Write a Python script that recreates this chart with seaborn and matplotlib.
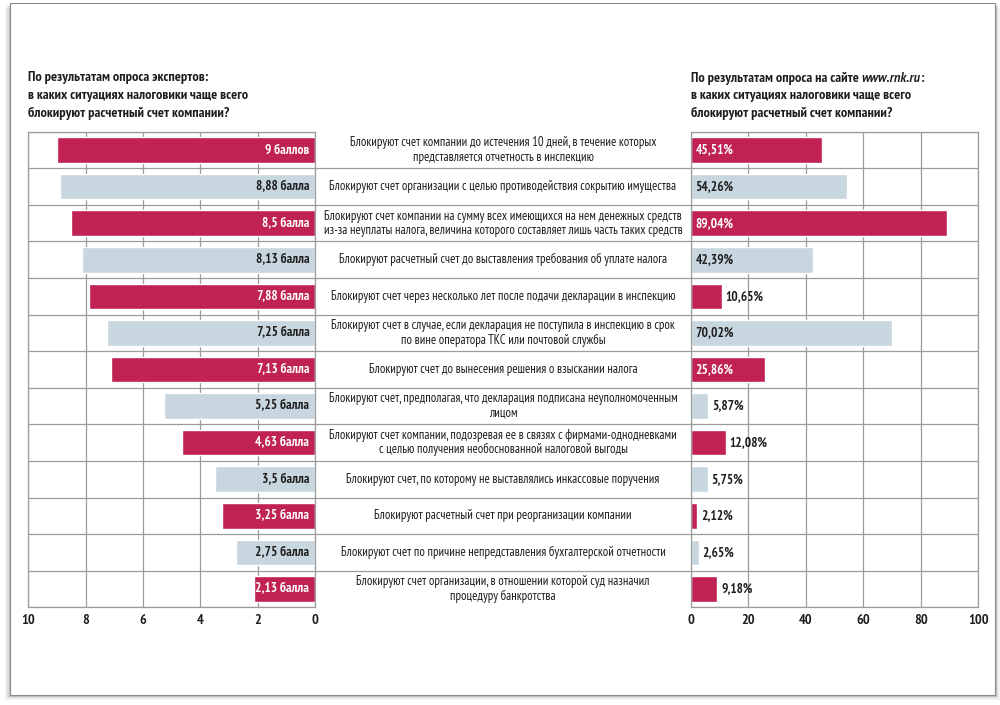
import matplotlib
matplotlib.use("Agg")
import matplotlib.pyplot as plt
from matplotlib.patches import Rectangle
import seaborn as sns
import pandas as pd
import numpy as np

situations = [
    "Блокируют счет компании до истечения 10 дней, в течение которых\nпредставляется отчетность в инспекцию",
    "Блокируют счет организации с целью противодействия сокрытию имущества",
    "Блокируют счет компании на сумму всех имеющихся на нем денежных средств\nиз-за неуплаты налога, величина которого составляет лишь часть таких средств",
    "Блокируют расчетный счет до выставления требования об уплате налога",
    "Блокируют счет через несколько лет после подачи декларации в инспекцию",
    "Блокируют счет в случае, если декларация не поступила в инспекцию в срок\nпо вине оператора ТКС или почтовой службы",
    "Блокируют счет до вынесения решения о взыскании налога",
    "Блокируют счет, предполагая, что декларация подписана неуполномоченным\nлицом",
    "Блокируют счет компании, подозревая ее в связях с фирмами-однодневками\nс целью получения необоснованной налоговой выгоды",
    "Блокируют счет, по которому не выставлялись инкассовые поручения",
    "Блокируют расчетный счет при реорганизации компании",
    "Блокируют счет по причине непредставления бухгалтерской отчетности",
    "Блокируют счет организации, в отношении которой суд назначил\nпроцедуру банкротства",
]
expert_scores = [9, 8.88, 8.5, 8.13, 7.88, 7.25, 7.13, 5.25, 4.63, 3.5, 3.25, 2.75, 2.13]
expert_labels = ["9 баллов", "8,88 балла", "8,5 балла", "8,13 балла", "7,88 балла",
                 "7,25 балла", "7,13 балла", "5,25 балла", "4,63 балла", "3,5 балла",
                 "3,25 балла", "2,75 балла", "2,13 балла"]
site_shares = [45.51, 54.26, 89.04, 42.39, 10.65, 70.02, 25.86, 5.87, 12.08, 5.75, 2.12, 2.65, 9.18]
site_labels = ["45,51%", "54,26%", "89,04%", "42,39%", "10,65%", "70,02%", "25,86%",
               "5,87%", "12,08%", "5,75%", "2,12%", "2,65%", "9,18%"]
row_group = ["accent", "plain"] * 6 + ["accent"]

left_ticks = [10, 8, 6, 4, 2, 0]
right_ticks = [0, 20, 40, 60, 80, 100]

title_left = ["По результатам опроса экспертов:",
              "в каких ситуациях налоговики чаще всего",
              "блокируют расчетный счет компании?"]
title_right = ["По результатам опроса на сайте ", "www.rnk.ru", ":",
               "в каких ситуациях налоговики чаще всего",
               "блокируют расчетный счет компании?"]

CRIMSON = "#BF2253"
PALE = "#C7D6DF"
GRID = "#9c9c9c"
DARK = "#1e1e1e"
palette = {"accent": CRIMSON, "plain": PALE}

sns.set_theme(style="white")
plt.rcParams["font.family"] = ["PT Sans Narrow", "DejaVu Sans"]

HEAD = 10.3
VAL = 9.6

df = pd.DataFrame({
    "situation": situations,
    "score": expert_scores,
    "share": site_shares,
    "group": row_group,
})

fig = plt.figure(figsize=(10, 7.05), dpi=100)
fig.patch.set_facecolor("white")

# page with a soft shadow
for off, a in [(5, 0.10), (3, 0.18), (1.5, 0.28)]:
    fig.patches.append(Rectangle((10 / 1000 - off / 1000, 10 / 705 - off / 705),
                                 985 / 1000 + 2 * off / 1000, 692 / 705,
                                 transform=fig.transFigure, facecolor="#808080",
                                 edgecolor="none", alpha=a, zorder=-3))
fig.patches.append(Rectangle((10 / 1000, 10 / 705), 985 / 1000, 692 / 705,
                             transform=fig.transFigure, facecolor="white",
                             edgecolor="#8a8a8a", lw=0.8, zorder=-2))

bottom = 1 - 607.3 / 705
height = (607.3 - 131.7) / 705
ax_l = fig.add_axes([0.0283, bottom, 0.2867, height])
ax_m = fig.add_axes([0.315, bottom, 0.376, height])
ax_r = fig.add_axes([0.691, bottom, 0.2873, height])

for ax, col in [(ax_l, "score"), (ax_r, "share")]:
    sns.barplot(data=df, x=col, y="situation", hue="group", palette=palette,
                dodge=False, width=0.7, saturation=1, legend=False, ax=ax,
                orient="h")
    ax.set_ylim(12.5, -0.5)
    ax.set_yticks([])
    ax.set_yticks(np.arange(-0.5, 13, 1), minor=True)
    ax.yaxis.grid(True, which="minor", color=GRID, lw=0.9)
    ax.xaxis.grid(True, color=GRID, lw=0.9)
    ax.set_axisbelow(True)
    ax.set_xlabel("")
    ax.set_ylabel("")
    ax.tick_params(which="both", length=0, pad=5)
    for s in ax.spines.values():
        s.set_color(GRID)
        s.set_linewidth(0.9)
    ax.patch.set_alpha(0)

ax_l.set_xlim(10, 0)
ax_l.set_xticks(left_ticks)
ax_l.set_xticklabels([str(t) for t in left_ticks], fontsize=10.3, fontweight="bold", color=DARK)
ax_r.set_xlim(0, 100)
ax_r.set_xticks(right_ticks)
ax_r.set_xticklabels([str(t) for t in right_ticks], fontsize=10.3, fontweight="bold", color=DARK)

# value labels
for i, (lab, grp) in enumerate(zip(expert_labels, row_group)):
    ax_l.text(0.2, i, lab, ha="right", va="center", fontsize=VAL, fontweight="bold",
              color="white" if grp == "accent" else DARK)

for i, (val, lab, grp) in enumerate(zip(site_shares, site_labels, row_group)):
    if val > 20:
        ax_r.text(1.5, i, lab, ha="left", va="center", fontsize=VAL, fontweight="bold",
                  color="white" if grp == "accent" else DARK)
    else:
        ax_r.text(val + 1.4, i, lab, ha="left", va="center", fontsize=VAL,
                  fontweight="bold", color=DARK)

# middle column: descriptions and row separators
ax_m.set_xlim(0, 1)
ax_m.set_ylim(12.5, -0.5)
ax_m.axis("off")
for b in np.arange(0.5, 12, 1):
    ax_m.axhline(b, color=GRID, lw=0.9)
for i, s in enumerate(situations):
    ax_m.text(0.5, i, s, ha="center", va="center", fontsize=9.1, color=DARK,
              linespacing=1.12)

# headers
for k, line in enumerate(title_left):
    fig.text(0.0283, 1 - (78 + 17.5 * k) / 705, line, ha="left", va="center",
             fontsize=HEAD, fontweight="bold", color=DARK)

y0 = 1 - 78 / 705
t1 = fig.text(0.691, y0, title_right[0], ha="left", va="center", fontsize=HEAD,
              fontweight="bold", color=DARK)
fig.canvas.draw()
r = fig.canvas.get_renderer()
w1 = t1.get_window_extent(r).width / fig.bbox.width
t2 = fig.text(0.691 + w1, y0, title_right[1], ha="left", va="center", fontsize=HEAD - 1.3,
              fontweight="bold", fontstyle="italic", color=DARK,
              family=["PT Sans", "DejaVu Sans"])
w2 = t2.get_window_extent(r).width / fig.bbox.width
fig.text(0.691 + w1 + w2, y0, title_right[2], ha="left", va="center", fontsize=HEAD,
         fontweight="bold", color=DARK)
for k, line in enumerate(title_right[3:]):
    fig.text(0.691, 1 - (78 + 17.5 * (k + 1)) / 705, line, ha="left", va="center",
             fontsize=HEAD, fontweight="bold", color=DARK)

fig.savefig("out.png", dpi=100)
